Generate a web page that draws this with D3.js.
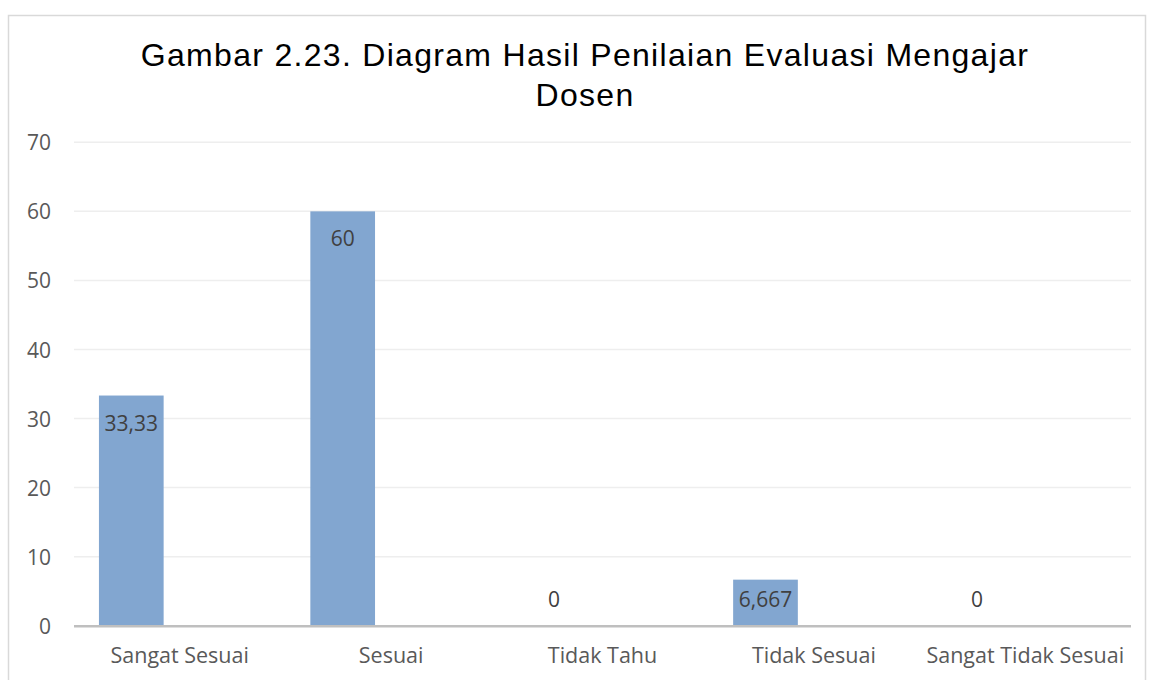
<!DOCTYPE html>
<html>
<head>
<meta charset="utf-8">
<script src="https://cdn.jsdelivr.net/npm/d3@7"></script>
<style>
  html, body { margin: 0; padding: 0; background: #ffffff; }
  svg { display: block; }
</style>
</head>
<body>
<svg id="chart" width="1149" height="680"></svg>
<script>
const titleLines = ["Gambar 2.23. Diagram Hasil Penilaian Evaluasi Mengajar", "Dosen"];
const categories = ["Sangat Sesuai", "Sesuai", "Tidak Tahu", "Tidak Sesuai", "Sangat Tidak Sesuai"];
const values = [33.33, 60, 0, 6.667, 0];
const valueLabels = ["33,33", "60", "0", "6,667", "0"];
const yTicks = [0, 10, 20, 30, 40, 50, 60, 70];

const svg = d3.select("#chart");
const plot = { left: 74, right: 1131, top: 142.3, bottom: 625.7 };

// chart frame
svg.append("rect")
  .attr("x", 8.5).attr("y", 15.5)
  .attr("width", 1137).attr("height", 700)
  .attr("fill", "#ffffff")
  .attr("stroke", "#d9d9d9").attr("stroke-width", 1.5);

const x = d3.scaleBand().domain(categories).range([plot.left, plot.right]).paddingInner(0).paddingOuter(0);
const y = d3.scaleLinear().domain([0, 70]).range([plot.bottom, plot.top]);

// gridlines
svg.append("g").selectAll("line").data(yTicks.filter(t => t > 0)).join("line")
  .attr("x1", plot.left).attr("x2", plot.right)
  .attr("y1", d => y(d)).attr("y2", d => y(d))
  .attr("stroke", "#eeeeee").attr("stroke-width", 1.5);

// y axis tick labels
const yAxis = d3.axisLeft(y).tickValues(yTicks).tickSize(0).tickPadding(0).tickFormat(d3.format("d"));
const yg = svg.append("g").attr("transform", `translate(51,0)`).call(yAxis);
yg.select(".domain").remove();
yg.selectAll("text")
  .attr("font-family", "'Open Sans', 'Noto Sans', sans-serif")
  .attr("font-size", 21)
  .attr("fill", "#595959")
  .attr("dy", "0.36em");

// bars
const bw = x.bandwidth();
const barOffset = bw * 0.118;
const barWidth = bw * 0.306;
svg.append("g").selectAll("rect").data(values).join("rect")
  .attr("x", (d, i) => x(categories[i]) + barOffset)
  .attr("y", d => y(d))
  .attr("width", barWidth)
  .attr("height", d => y(0) - y(d))
  .attr("fill", "#82a6d0");

// axis line
svg.append("line")
  .attr("x1", plot.left).attr("x2", plot.right)
  .attr("y1", y(0) + 0.5).attr("y2", y(0) + 0.5)
  .attr("stroke", "#bfbfbf").attr("stroke-width", 2.5);

// data labels
svg.append("g").selectAll("text").data(values).join("text")
  .attr("x", (d, i) => x(categories[i]) + barOffset + barWidth / 2)
  .attr("y", d => Math.min(y(d) + 35, y(0) - 19))
  .attr("text-anchor", "middle")
  .attr("font-family", "'Open Sans', 'Noto Sans', sans-serif")
  .attr("font-size", 21)
  .attr("fill", "#404040")
  .text((d, i) => valueLabels[i]);

// category labels
const xAxis = d3.axisBottom(x).tickSize(0).tickPadding(0);
const xg = svg.append("g").attr("transform", `translate(0,${y(0)})`).call(xAxis);
xg.select(".domain").remove();
xg.selectAll("text")
  .attr("font-family", "'Open Sans', 'Noto Sans', sans-serif")
  .attr("font-size", 21.5)
  .attr("fill", "#595959")
  .attr("dy", 0)
  .attr("y", 37);

// title
const title = svg.append("g");
title.selectAll("text").data(titleLines).join("text")
  .attr("x", 585)
  .attr("y", (d, i) => 66 + i * 40)
  .attr("text-anchor", "middle")
  .attr("font-family", "'Liberation Sans', Arial, sans-serif")
  .attr("font-size", 32)
  .attr("letter-spacing", "1.3px")
  .attr("fill", "#000000")
  .text(d => d);
</script>
</body>
</html>
